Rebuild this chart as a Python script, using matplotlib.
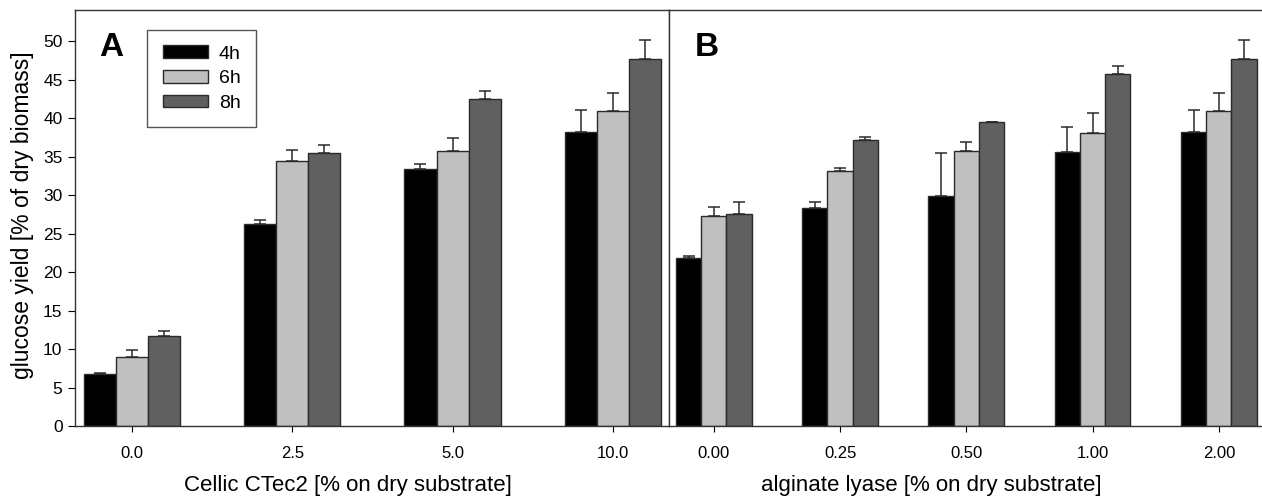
import matplotlib
matplotlib.use("Agg")
import matplotlib.pyplot as plt
import numpy as np
from matplotlib.patches import Patch

plt.rcParams['font.family'] = ['Liberation Sans', 'DejaVu Sans']

series = ['4h', '6h', '8h']
colors = ['#000000', '#c0c0c0', '#606060']

# panel A: Cellic CTec2 dosage
cats_a = ['0.0', '2.5', '5.0', '10.0']
vals_a = [[6.7, 26.2, 33.4, 38.2],
          [8.9, 34.4, 35.7, 40.9],
          [11.7, 35.5, 42.5, 47.7]]
err_a = [[0.2, 0.5, 0.6, 2.9],
         [1.0, 1.5, 1.7, 2.4],
         [0.6, 1.0, 1.0, 2.4]]

# panel B: alginate lyase dosage
cats_b = ['0.00', '0.25', '0.50', '1.00', '2.00']
vals_b = [[21.8, 28.3, 29.9, 35.6, 38.2],
          [27.3, 33.1, 35.7, 38.1, 40.9],
          [27.5, 37.1, 39.5, 45.7, 47.7]]
err_b = [[0.25, 0.85, 5.5, 3.3, 2.9],
         [1.15, 0.4, 1.25, 2.6, 2.4],
         [1.55, 0.4, 0.05, 1.0, 2.4]]


def draw_panel(ax, cats, vals, errs, xlabel, letter, show_y, label_x, letter_x):
    x = np.arange(len(cats))
    w = 0.2
    for i in range(3):
        pos = x + (i - 1) * w
        ax.bar(pos, vals[i], w, color=colors[i], edgecolor='#2a2a2a', linewidth=1, zorder=2)
        ax.errorbar(pos, vals[i], yerr=[np.zeros(len(cats)), errs[i]], fmt='none',
                    ecolor='#2a2a2a', elinewidth=1.1, capsize=4.5, capthick=1.1, zorder=1)
    ax.set_xlim(-0.355, len(cats) - 1 + 0.35)
    ax.set_ylim(0, 54.1)
    ax.set_xticks(x)
    ax.set_xticklabels(cats, fontsize=12)
    ax.set_xlabel(xlabel, fontsize=16, va='center')
    ax.xaxis.set_label_coords(label_x, -0.142)
    ax.tick_params(axis='x', direction='out', length=4.5, pad=10)
    if show_y:
        ax.set_yticks(np.arange(0, 51, 5))
        ax.tick_params(axis='y', direction='out', length=5, labelsize=12.5, pad=4)
        ax.set_ylabel('glucose yield [% of dry biomass]', fontsize=16.5, va='center')
        ax.yaxis.set_label_coords(-0.089, 0.507)
    else:
        ax.set_yticks([])
    for s in ax.spines.values():
        s.set_color('#333333')
        s.set_linewidth(1)
    ax.text(letter_x, 0.908, letter, transform=ax.transAxes, fontsize=24,
            fontweight='bold', ha='center', va='center')


fig = plt.figure(figsize=(12.62, 5.0), dpi=100)
ax_a = fig.add_axes([75 / 1262, 0.148, 594 / 1262, 0.833])
ax_b = fig.add_axes([669 / 1262, 0.148, 594 / 1262, 0.833])

draw_panel(ax_a, cats_a, vals_a, err_a, 'Cellic CTec2 [% on dry substrate]', 'A', True, 0.459, 0.061)
draw_panel(ax_b, cats_b, vals_b, err_b, 'alginate lyase [% on dry substrate]', 'B', False, 0.441, 0.064)
ax_b.spines['right'].set_visible(False)

handles = [Patch(facecolor=c, edgecolor='#2a2a2a', linewidth=1) for c in colors]
leg = ax_a.legend(handles, series, loc='upper left', bbox_to_anchor=(0.122, 0.951),
                  fancybox=False, edgecolor='#2a2a2a', fontsize=14, handlelength=2.3,
                  handleheight=0.62, borderpad=0.8, labelspacing=0.38, handletextpad=0.57,
                  borderaxespad=0)
leg.get_frame().set_linewidth(1)

fig.savefig('out.png', dpi=100)
